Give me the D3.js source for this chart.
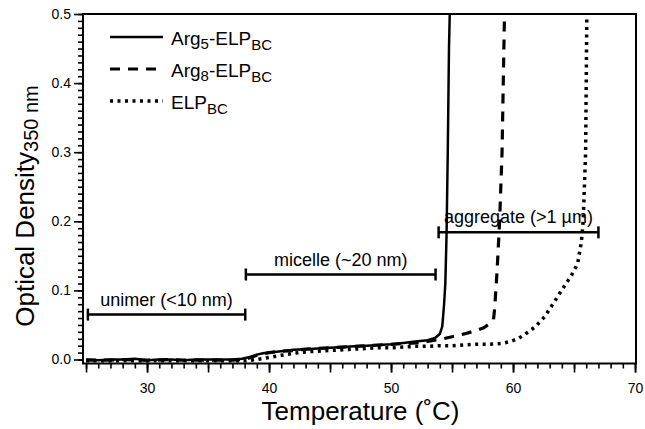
<!DOCTYPE html>
<html>
<head>
<meta charset="utf-8">
<script src="https://cdn.jsdelivr.net/npm/d3@7"></script>
<style>
  body { margin: 0; background: #fff; }
  svg { display: block; font-family: Arial, "Liberation Sans", sans-serif; }
</style>
</head>
<body>
<div id="chart"></div>
<script>
// temperatures (°C) and optical density readings for each construct
const arg5Temp = [25, 26, 27, 28, 29, 30, 31, 32, 33, 34, 35, 36, 37, 37.8, 38.5, 39, 39.5, 40, 41, 42, 43, 44, 45, 46, 47, 48, 49, 50, 51, 52, 53, 53.6, 54.0, 54.2, 54.35, 54.45, 54.55, 54.65, 54.75, 54.85];
const arg5OD   = [0.000, -0.001, 0.000, 0.000, 0.001, -0.001, 0.000, 0.000, -0.001, 0.000, 0.000, 0.000, 0.000, 0.001, 0.004, 0.007, 0.009, 0.010, 0.012, 0.014, 0.015, 0.016, 0.017, 0.018, 0.019, 0.020, 0.021, 0.022, 0.024, 0.026, 0.028, 0.031, 0.037, 0.048, 0.080, 0.110, 0.180, 0.300, 0.450, 0.530];

const arg8Temp = [25, 26, 27, 28, 29, 30, 31, 32, 33, 34, 35, 36, 37, 38, 38.5, 39, 39.5, 40, 41, 42, 43, 44, 45, 46, 47, 48, 49, 50, 51, 52, 53, 54, 55, 56, 57, 57.6, 58.1, 58.4, 58.5, 58.7, 58.9, 59.1, 59.3, 59.4];
const arg8OD   = [-0.001, -0.001, -0.001, 0.000, -0.001, -0.001, -0.001, 0.000, -0.001, -0.001, -0.001, -0.001, -0.001, 0.000, 0.003, 0.006, 0.008, 0.010, 0.012, 0.013, 0.015, 0.016, 0.017, 0.018, 0.019, 0.020, 0.021, 0.022, 0.023, 0.024, 0.026, 0.029, 0.033, 0.037, 0.042, 0.046, 0.052, 0.058, 0.075, 0.130, 0.200, 0.300, 0.500, 0.530];

const elpTemp = [25, 26, 27, 28, 29, 30, 31, 32, 33, 34, 35, 36, 37, 38, 39, 40, 41, 42, 43, 44, 45, 46, 47, 48, 49, 50, 51, 52, 53, 54, 55, 56, 57, 58, 59, 59.8, 60.5, 61.1, 61.8, 62.6, 63.4, 64.2, 64.8, 65.3, 65.6, 65.75, 65.95, 66.05, 66.1];
const elpOD   = [-0.002, -0.002, -0.002, -0.002, -0.002, -0.002, -0.002, -0.002, -0.002, -0.002, -0.002, -0.002, -0.002, -0.002, 0.000, 0.003, 0.006, 0.009, 0.011, 0.012, 0.013, 0.014, 0.015, 0.016, 0.017, 0.017, 0.018, 0.019, 0.019, 0.020, 0.020, 0.021, 0.022, 0.022, 0.023, 0.026, 0.031, 0.038, 0.047, 0.062, 0.084, 0.106, 0.122, 0.139, 0.170, 0.200, 0.300, 0.500, 0.530];

const seriesNames = ['Arg5-ELPBC', 'Arg8-ELPBC', 'ELPBC'];

// size regimes: [start °C, end °C, OD level, label]
const regimeStart = [25.15, 38.1, 53.9];
const regimeEnd   = [38.05, 53.65, 67.0];
const regimeLevel = [0.065, 0.123, 0.184];
const regimeLabel = ['unimer (<10 nm)', 'micelle (~20 nm)', 'aggregate (>1 µm)'];

const xMajorTicks = [30, 40, 50, 60, 70];
const yMajorTicks = [0.0, 0.1, 0.2, 0.3, 0.4, 0.5];

class TurbidityPlot {
    constructor(_config) {
        this.config = {
            parentElement: _config.parentElement,
            containerWidth: _config.containerWidth || 645,
            containerHeight: _config.containerHeight || 429,
            margin: _config.margin || {top: 14, right: 9, bottom: 65.5, left: 83}
        }
        this.InitVis();
    }

    InitVis() {
        let vis = this;
        const m = vis.config.margin;
        vis.width = vis.config.containerWidth - m.left - m.right;
        vis.height = vis.config.containerHeight - m.top - m.bottom;

        vis.svg = d3.select(vis.config.parentElement).append('svg')
            .attr('width', vis.config.containerWidth)
            .attr('height', vis.config.containerHeight);

        vis.chart = vis.svg.append('g').attr('transform', `translate(${m.left},${m.top})`);

        vis.xScale = d3.scaleLinear().domain([24.75, 70.08]).range([0, vis.width]);
        vis.yScale = d3.scaleLinear().domain([-0.0058, 0.5]).range([vis.height, 0]);

        vis.svg.append('defs').append('clipPath').attr('id', 'plot-clip')
            .append('rect').attr('width', vis.width).attr('height', vis.height);

        vis.line = d3.line()
            .x(d => vis.xScale(d[0]))
            .y(d => vis.yScale(d[1]));
    }

    RenderVis() {
        let vis = this;

        // axes: minor ticks first (no labels), then majors with labels
        const xAxisG = vis.chart.append('g').attr('transform', `translate(0,${vis.height})`);
        xAxisG.append('g').attr('class', 'minor').call(d3.axisBottom(vis.xScale).tickValues(d3.range(25, 71, 1)).tickSize(5));
        xAxisG.append('g').attr('class', 'minor').call(d3.axisBottom(vis.xScale).tickValues(d3.range(25, 71, 5)).tickSize(9));
        xAxisG.append('g').call(d3.axisBottom(vis.xScale).tickValues(xMajorTicks).tickSize(9).tickPadding(11).tickFormat(d3.format('d')));

        const yAxisG = vis.chart.append('g');
        yAxisG.append('g').attr('class', 'minor').call(d3.axisLeft(vis.yScale).tickValues(d3.range(0, 0.501, 0.01)).tickSize(5));
        yAxisG.append('g').call(d3.axisLeft(vis.yScale).tickValues(yMajorTicks).tickSize(9).tickPadding(3).tickFormat(d3.format('.1f')));

        vis.chart.selectAll('.minor text').remove();
        vis.chart.selectAll('.domain').remove();
        vis.chart.selectAll('.tick line').attr('stroke', '#000').attr('stroke-width', 1.6);
        vis.chart.selectAll('.tick text').attr('fill', '#000').style('font-size', '14px');

        // frame
        vis.chart.append('rect')
            .attr('width', vis.width).attr('height', vis.height)
            .attr('fill', 'none').attr('stroke', '#000').attr('stroke-width', 2);

        // curves
        const curves = [
            {temp: arg5Temp, od: arg5OD, dash: null, width: 2.5},
            {temp: arg8Temp, od: arg8OD, dash: '10,8', width: 3.2},
            {temp: elpTemp, od: elpOD, dash: '3,4.5', width: 3.5}
        ];
        vis.chart.append('g').attr('clip-path', 'url(#plot-clip)')
            .selectAll('path')
            .data(curves)
            .join('path')
                .attr('d', c => vis.line(c.temp.map((t, i) => [t, c.od[i]])))
                .attr('fill', 'none')
                .attr('stroke', '#000')
                .attr('stroke-width', c => c.width)
                .attr('stroke-dasharray', c => c.dash);

        // regime brackets
        const brackets = vis.chart.selectAll('.bracket')
            .data(regimeLabel.map((l, i) => ({label: l, x0: regimeStart[i], x1: regimeEnd[i], y: regimeLevel[i]})))
            .join('g').attr('class', 'bracket');
        brackets.append('line')
            .attr('x1', d => vis.xScale(d.x0)).attr('x2', d => vis.xScale(d.x1))
            .attr('y1', d => vis.yScale(d.y)).attr('y2', d => vis.yScale(d.y))
            .attr('stroke', '#000').attr('stroke-width', 2.5);
        brackets.selectAll('.cap')
            .data(d => [{x: d.x0, y: d.y}, {x: d.x1, y: d.y}])
            .join('line').attr('class', 'cap')
            .attr('x1', d => vis.xScale(d.x)).attr('x2', d => vis.xScale(d.x))
            .attr('y1', d => vis.yScale(d.y) - 6).attr('y2', d => vis.yScale(d.y) + 6)
            .attr('stroke', '#000').attr('stroke-width', 2.5);
        brackets.append('text')
            .attr('x', d => (vis.xScale(d.x0) + vis.xScale(d.x1)) / 2)
            .attr('y', d => vis.yScale(d.y) - 9)
            .attr('text-anchor', 'middle')
            .style('font-size', '18px')
            .text(d => d.label);

        // legend
        const legend = vis.svg.append('g').attr('transform', 'translate(110,37)');
        const legendRows = legend.selectAll('g')
            .data(curves.map((c, i) => ({...c, name: seriesNames[i]})))
            .join('g')
            .attr('transform', (d, i) => `translate(0,${i * 32})`);
        legendRows.append('line')
            .attr('x1', 0).attr('x2', 53)
            .attr('stroke', '#000')
            .attr('stroke-width', d => d.width)
            .attr('stroke-dasharray', d => d.dash);
        const legendText = legendRows.append('text')
            .attr('x', 61).attr('y', 8)
            .style('font-size', '19px');
        legendText.each(function(d) {
            const t = d3.select(this);
            const m = d.name.match(/^(Arg)?(\d)?(-?ELP)(BC)$/);
            if (m[1]) {
                t.append('tspan').text(m[1]);
                t.append('tspan').attr('dy', 4).style('font-size', '15px').text(m[2]);
                t.append('tspan').attr('dy', -4).text(m[3]);
            } else {
                t.append('tspan').text(m[3]);
            }
            t.append('tspan').attr('dy', 5).style('font-size', '15px').text(m[4]);
        });

        // axis titles
        vis.svg.append('text')
            .attr('x', vis.config.margin.left + vis.xScale(47.5))
            .attr('y', 420)
            .attr('text-anchor', 'middle')
            .style('font-size', '26px')
            .text('Temperature (˚C)');

        const yTitle = vis.svg.append('text')
            .attr('transform', 'translate(34,206) rotate(-90)')
            .attr('text-anchor', 'middle')
            .style('font-size', '26px');
        yTitle.append('tspan').text('Optical Density');
        yTitle.append('tspan').attr('dy', 4).style('font-size', '20px').text('350 nm');
    }
}

const plot = new TurbidityPlot({parentElement: '#chart'});
plot.RenderVis();
</script>
</body>
</html>
